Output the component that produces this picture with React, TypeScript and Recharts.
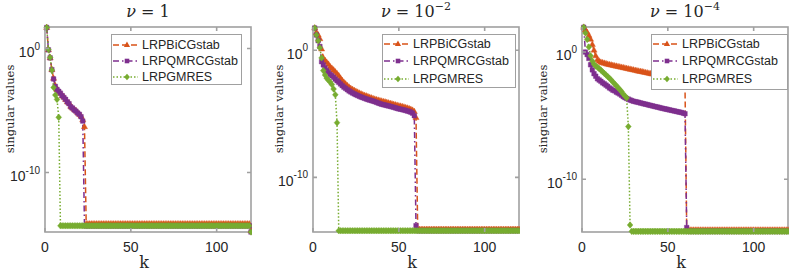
import { LineChart, Line, XAxis, YAxis, Legend } from 'recharts'

// log10 of the singular values, one entry per k = 1..120
const NU1_BICG = [
  1.7, -0.1, -0.75, -1.7, -2.4, -3.0, -3.3, -3.45, -3.6, -3.8,
  -3.9, -4.1, -4.3, -4.4, -4.65, -4.8, -4.9, -5.0, -5.15, -5.3,
  -5.45, -5.75, -6.3, -14.15, -14.15, -14.15, -14.15, -14.15, -14.15, -14.15,
  -14.15, -14.15, -14.15, -14.15, -14.15, -14.15, -14.15, -14.15, -14.15, -14.15,
  -14.15, -14.15, -14.15, -14.15, -14.15, -14.15, -14.15, -14.15, -14.15, -14.15,
  -14.15, -14.15, -14.15, -14.15, -14.15, -14.15, -14.15, -14.15, -14.15, -14.15,
  -14.15, -14.15, -14.15, -14.15, -14.15, -14.15, -14.15, -14.15, -14.15, -14.15,
  -14.15, -14.15, -14.15, -14.15, -14.15, -14.15, -14.15, -14.15, -14.15, -14.15,
  -14.15, -14.15, -14.15, -14.15, -14.15, -14.15, -14.15, -14.15, -14.15, -14.15,
  -14.15, -14.15, -14.15, -14.15, -14.15, -14.15, -14.15, -14.15, -14.15, -14.15,
  -14.15, -14.15, -14.15, -14.15, -14.15, -14.15, -14.15, -14.15, -14.15, -14.15,
  -14.15, -14.15, -14.15, -14.15, -14.15, -14.15, -14.15, -14.15, -14.15, -14.7,
]
const NU1_QMR = [
  1.7, -0.1, -0.75, -1.7, -2.45, -3.05, -3.3, -3.45, -3.6, -3.8,
  -3.95, -4.1, -4.3, -4.45, -4.7, -4.8, -4.95, -5.05, -5.2, -5.3,
  -5.5, -5.85, -14.3, -14.3, -14.3, -14.3, -14.3, -14.3, -14.3, -14.3,
  -14.3, -14.3, -14.3, -14.3, -14.3, -14.3, -14.3, -14.3, -14.3, -14.3,
  -14.3, -14.3, -14.3, -14.3, -14.3, -14.3, -14.3, -14.3, -14.3, -14.3,
  -14.3, -14.3, -14.3, -14.3, -14.3, -14.3, -14.3, -14.3, -14.3, -14.3,
  -14.3, -14.3, -14.3, -14.3, -14.3, -14.3, -14.3, -14.3, -14.3, -14.3,
  -14.3, -14.3, -14.3, -14.3, -14.3, -14.3, -14.3, -14.3, -14.3, -14.3,
  -14.3, -14.3, -14.3, -14.3, -14.3, -14.3, -14.3, -14.3, -14.3, -14.3,
  -14.3, -14.3, -14.3, -14.3, -14.3, -14.3, -14.3, -14.3, -14.3, -14.3,
  -14.3, -14.3, -14.3, -14.3, -14.3, -14.3, -14.3, -14.3, -14.3, -14.3,
  -14.3, -14.3, -14.3, -14.3, -14.3, -14.3, -14.3, -14.3, -14.3, -14.8,
]
const NU1_GMRES = [
  1.7, -0.08, -0.72, -1.74, -3.14, -3.75, -4.1, -5.55, -14.3, -14.3,
  -14.3, -14.3, -14.3, -14.3, -14.3, -14.3, -14.3, -14.3, -14.3, -14.3,
  -14.3, -14.3, -14.3, -14.3, -14.3, -14.3, -14.3, -14.3, -14.3, -14.3,
  -14.3, -14.3, -14.3, -14.3, -14.3, -14.3, -14.3, -14.3, -14.3, -14.3,
  -14.3, -14.3, -14.3, -14.3, -14.3, -14.3, -14.3, -14.3, -14.3, -14.3,
  -14.3, -14.3, -14.3, -14.3, -14.3, -14.3, -14.3, -14.3, -14.3, -14.3,
  -14.3, -14.3, -14.3, -14.3, -14.3, -14.3, -14.3, -14.3, -14.3, -14.3,
  -14.3, -14.3, -14.3, -14.3, -14.3, -14.3, -14.3, -14.3, -14.3, -14.3,
  -14.3, -14.3, -14.3, -14.3, -14.3, -14.3, -14.3, -14.3, -14.3, -14.3,
  -14.3, -14.3, -14.3, -14.3, -14.3, -14.3, -14.3, -14.3, -14.3, -14.3,
  -14.3, -14.3, -14.3, -14.3, -14.3, -14.3, -14.3, -14.3, -14.3, -14.3,
  -14.3, -14.3, -14.3, -14.3, -14.3, -14.3, -14.3, -14.3, -14.3, -14.8,
]

const NU2_BICG = [
  1.75, 1.4, 1.2, 0.9, 0.1, -0.6, -0.8, -0.95, -1.1, -1.3,
  -1.42, -1.55, -1.7, -1.85, -2.0, -2.2, -2.38, -2.52, -2.65, -2.78,
  -2.9, -3.0, -3.08, -3.16, -3.23, -3.3, -3.37, -3.44, -3.5, -3.55,
  -3.6, -3.65, -3.7, -3.75, -3.8, -3.85, -3.89, -3.93, -3.97, -4.0,
  -4.04, -4.07, -4.11, -4.15, -4.19, -4.22, -4.26, -4.3, -4.33, -4.37,
  -4.4, -4.43, -4.47, -4.51, -4.55, -4.6, -4.65, -4.72, -4.82, -5.3,
  -14.1, -14.1, -14.1, -14.1, -14.1, -14.1, -14.1, -14.1, -14.1, -14.1,
  -14.1, -14.1, -14.1, -14.1, -14.1, -14.1, -14.1, -14.1, -14.1, -14.1,
  -14.1, -14.1, -14.1, -14.1, -14.1, -14.1, -14.1, -14.1, -14.1, -14.1,
  -14.1, -14.1, -14.1, -14.1, -14.1, -14.1, -14.1, -14.1, -14.1, -14.1,
  -14.1, -14.1, -14.1, -14.1, -14.1, -14.1, -14.1, -14.1, -14.1, -14.1,
  -14.1, -14.1, -14.1, -14.1, -14.1, -14.1, -14.1, -14.1, -14.1, -14.1,
]
const NU2_QMR = [
  1.75, 1.2, 0.75, 0.3, -0.9, -1.15, -1.4, -1.6, -1.75, -1.9,
  -2.0, -2.13, -2.27, -2.4, -2.52, -2.65, -2.78, -2.9, -3.0, -3.1,
  -3.2, -3.28, -3.36, -3.43, -3.5, -3.56, -3.62, -3.68, -3.73, -3.78,
  -3.83, -3.88, -3.92, -3.96, -4.0, -4.05, -4.1, -4.15, -4.2, -4.25,
  -4.28, -4.31, -4.35, -4.38, -4.41, -4.45, -4.49, -4.53, -4.57, -4.61,
  -4.64, -4.67, -4.7, -4.74, -4.78, -4.82, -4.87, -4.95, -5.15, -13.8,
  -14.2, -14.2, -14.2, -14.2, -14.2, -14.2, -14.2, -14.2, -14.2, -14.2,
  -14.2, -14.2, -14.2, -14.2, -14.2, -14.2, -14.2, -14.2, -14.2, -14.2,
  -14.2, -14.2, -14.2, -14.2, -14.2, -14.2, -14.2, -14.2, -14.2, -14.2,
  -14.2, -14.2, -14.2, -14.2, -14.2, -14.2, -14.2, -14.2, -14.2, -14.2,
  -14.2, -14.2, -14.2, -14.2, -14.2, -14.2, -14.2, -14.2, -14.2, -14.2,
  -14.2, -14.2, -14.2, -14.2, -14.2, -14.2, -14.2, -14.2, -14.2, -14.2,
]
const NU2_GMRES = [
  1.75, 1.2, 0.75, 0.2, -0.6, -1.6, -1.95, -2.2, -2.35, -2.5,
  -2.7, -3.05, -3.5, -5.7, -14.2, -14.2, -14.2, -14.2, -14.2, -14.2,
  -14.2, -14.2, -14.2, -14.2, -14.2, -14.2, -14.2, -14.2, -14.2, -14.2,
  -14.2, -14.2, -14.2, -14.2, -14.2, -14.2, -14.2, -14.2, -14.2, -14.2,
  -14.2, -14.2, -14.2, -14.2, -14.2, -14.2, -14.2, -14.2, -14.2, -14.2,
  -14.2, -14.2, -14.2, -14.2, -14.2, -14.2, -14.2, -14.2, -14.2, -14.2,
  -14.2, -14.2, -14.2, -14.2, -14.2, -14.2, -14.2, -14.2, -14.2, -14.2,
  -14.2, -14.2, -14.2, -14.2, -14.2, -14.2, -14.2, -14.2, -14.2, -14.2,
  -14.2, -14.2, -14.2, -14.2, -14.2, -14.2, -14.2, -14.2, -14.2, -14.2,
  -14.2, -14.2, -14.2, -14.2, -14.2, -14.2, -14.2, -14.2, -14.2, -14.2,
  -14.2, -14.2, -14.2, -14.2, -14.2, -14.2, -14.2, -14.2, -14.2, -14.2,
  -14.2, -14.2, -14.2, -14.2, -14.2, -14.2, -14.2, -14.2, -14.2, -14.2,
]

const NU4_BICG = [
  1.95, 1.75, 1.55, 1.3, 1.0, 0.6, 0.15, -0.3, -0.6, -0.72,
  -0.8, -0.84, -0.88, -0.92, -0.96, -0.99, -1.02, -1.05, -1.08, -1.11,
  -1.14, -1.17, -1.2, -1.23, -1.26, -1.29, -1.32, -1.35, -1.38, -1.41,
  -1.44, -1.47, -1.5, -1.52, -1.55, -1.58, -1.61, -1.64, -1.67, -1.7,
  -1.73, -1.76, -1.8, -1.83, -1.86, -1.9, -1.93, -1.97, -2.0, -2.04,
  -2.07, -2.11, -2.14, -2.18, -2.22, -2.26, -2.3, -2.35, -2.42, -2.65,
  -14.0, -14.0, -14.0, -14.0, -14.0, -14.0, -14.0, -14.0, -14.0, -14.0,
  -14.0, -14.0, -14.0, -14.0, -14.0, -14.0, -14.0, -14.0, -14.0, -14.0,
  -14.0, -14.0, -14.0, -14.0, -14.0, -14.0, -14.0, -14.0, -14.0, -14.0,
  -14.0, -14.0, -14.0, -14.0, -14.0, -14.0, -14.0, -14.0, -14.0, -14.0,
  -14.0, -14.0, -14.0, -14.0, -14.0, -14.0, -14.0, -14.0, -14.0, -14.0,
  -14.0, -14.0, -14.0, -14.0, -14.0, -14.0, -14.0, -14.0, -14.0, -14.0,
]
const NU4_QMR = [
  1.95, 0.0, -0.2, -0.5, -1.0, -1.4, -1.7, -1.9, -2.1, -2.2,
  -2.3, -2.42, -2.5, -2.6, -2.7, -2.82, -2.9, -3.0, -3.05, -3.15,
  -3.22, -3.3, -3.4, -3.5, -3.58, -3.65, -3.7, -3.77, -3.82, -3.87,
  -3.9, -3.93, -3.96, -4.0, -4.03, -4.07, -4.1, -4.13, -4.17, -4.2,
  -4.23, -4.27, -4.3, -4.33, -4.36, -4.4, -4.43, -4.46, -4.49, -4.52,
  -4.55, -4.58, -4.61, -4.64, -4.67, -4.7, -4.73, -4.76, -4.8, -4.85,
  -13.8, -14.1, -14.1, -14.1, -14.1, -14.1, -14.1, -14.1, -14.1, -14.1,
  -14.1, -14.1, -14.1, -14.1, -14.1, -14.1, -14.1, -14.1, -14.1, -14.1,
  -14.1, -14.1, -14.1, -14.1, -14.1, -14.1, -14.1, -14.1, -14.1, -14.1,
  -14.1, -14.1, -14.1, -14.1, -14.1, -14.1, -14.1, -14.1, -14.1, -14.1,
  -14.1, -14.1, -14.1, -14.1, -14.1, -14.1, -14.1, -14.1, -14.1, -14.1,
  -14.1, -14.1, -14.1, -14.1, -14.1, -14.1, -14.1, -14.1, -14.1, -14.1,
]
const NU4_GMRES = [
  1.95, 1.5, 1.0, 0.4, -0.3, -0.7, -0.95, -1.1, -1.2, -1.3,
  -1.42, -1.55, -1.68, -1.8, -1.93, -2.06, -2.2, -2.35, -2.5, -2.65,
  -2.8, -2.95, -3.1, -3.3, -3.45, -3.6, -5.86, -13.6, -14.1, -14.1,
  -14.1, -14.1, -14.1, -14.1, -14.1, -14.1, -14.1, -14.1, -14.1, -14.1,
  -14.1, -14.1, -14.1, -14.1, -14.1, -14.1, -14.1, -14.1, -14.1, -14.1,
  -14.1, -14.1, -14.1, -14.1, -14.1, -14.1, -14.1, -14.1, -14.1, -14.1,
  -14.1, -14.1, -14.1, -14.1, -14.1, -14.1, -14.1, -14.1, -14.1, -14.1,
  -14.1, -14.1, -14.1, -14.1, -14.1, -14.1, -14.1, -14.1, -14.1, -14.1,
  -14.1, -14.1, -14.1, -14.1, -14.1, -14.1, -14.1, -14.1, -14.1, -14.1,
  -14.1, -14.1, -14.1, -14.1, -14.1, -14.1, -14.1, -14.1, -14.1, -14.1,
  -14.1, -14.1, -14.1, -14.1, -14.1, -14.1, -14.1, -14.1, -14.1, -14.1,
  -14.1, -14.1, -14.1, -14.1, -14.1, -14.1, -14.1, -14.1, -14.1, -14.1,
]

const NU_EXPONENTS = [null, '\u22122', '\u22124']
// y-axis limits as log10 values, per panel
const Y_LIMITS = [[-14.8, 1.74], [-14.3, 1.83], [-14.15, 1.97]]
const X_DOMAIN = [0, 120]
const X_TICKS = [0, 50, 100]
const Y_TICKS = [1e-10, 1]

const SERIES = [
  { key: 'bicg', name: 'LRPBiCGstab', color: '#D95319', dash: '6 3', marker: 'triangle' },
  { key: 'qmr', name: 'LRPQMRCGstab', color: '#7E2F8E', dash: '6 3 1.5 3', marker: 'square' },
  { key: 'gmres', name: 'LRPGMRES', color: '#77AC30', dash: '1.5 2', marker: 'diamond' },
]

const AXIS = '#a0a0a0'
const INK = '#262626'
const SANS = '"Liberation Sans", Arial, sans-serif'
const SERIF = '"DejaVu Serif", serif'
// plot box inside each chart
const PLOT_LEFT = 45
const PLOT_TOP = 27
const PLOT_W = 206
const PLOT_H = 205

const panels = [
  { left: 0, bicg: NU1_BICG, qmr: NU1_QMR, gmres: NU1_GMRES, labelX: 9.5, legend: { x: 111, y: 34, w: 131, h: 51, row: 16, pad: 2 } },
  { left: 268, bicg: NU2_BICG, qmr: NU2_QMR, gmres: NU2_GMRES, labelX: 11, legend: { x: 114, y: 34, w: 134, h: 54, row: 17.5, pad: 0 } },
  { left: 537, bicg: NU4_BICG, qmr: NU4_QMR, gmres: NU4_GMRES, labelX: 6, legend: { x: 114, y: 34, w: 137, h: 56, row: 17.5, pad: 0 } },
]

function markerPath(shape: string, cx: number, cy: number) {
  if (shape === 'triangle') return `M${cx},${cy - 3.4}L${cx + 3.1},${cy + 2}L${cx - 3.1},${cy + 2}Z`
  if (shape === 'square') return `M${cx - 2.3},${cy - 2.3}h4.6v4.6h-4.6Z`
  return `M${cx},${cy - 3.3}L${cx + 2.9},${cy}L${cx},${cy + 3.3}L${cx - 2.9},${cy}Z`
}

const makeDot = (shape: string, color: string) => (props: any) => {
  const { cx, cy, index } = props
  if (cx == null || cy == null) return <g key={`e${index}`} />
  return <path key={`m${index}`} d={markerPath(shape, cx, cy)} fill={color} stroke={color} strokeWidth={0.4} />
}

function BottomTick({ x, y, payload }: any) {
  return (
    <g>
      <path d={`M${x},${y}v-4M${x},${y - PLOT_H}v4`} stroke={AXIS} strokeWidth={1.6} fill="none" />
      <text x={x} y={y + 20} textAnchor="middle" fontFamily={SANS} fontSize={14} fill={INK}>{payload.value}</text>
    </g>
  )
}

function LeftTick({ x, y, payload }: any) {
  const exp = Math.round(Math.log10(payload.value))
  return (
    <g>
      <path d={`M${x},${y}h4M${x + PLOT_W},${y}h-4`} stroke={AXIS} strokeWidth={1.6} fill="none" />
      <text x={x - 5} y={y + 8.4} textAnchor="end" fontFamily={SANS} fontSize={14} fill={INK}>
        10<tspan dy={-7.4} fontSize={10}>{exp}</tspan>
      </text>
    </g>
  )
}

function LegendBox({ box }: any) {
  return (
    <div style={{
      width: box.w, height: box.h, boxSizing: 'border-box', border: `1px solid ${AXIS}`, background: '#fff',
      paddingTop: box.pad, fontFamily: SANS, fontSize: 12.5, color: INK,
    }}>
      {SERIES.map(s => (
        <div key={s.key} style={{ display: 'flex', alignItems: 'center', height: box.row }}>
          <svg width={30} height={12} style={{ flex: 'none' }}>
            <line x1={1} x2={26} y1={6} y2={6} stroke={s.color} strokeWidth={1.5} strokeDasharray={s.dash} />
            <path d={markerPath(s.marker, 15, 6)} fill={s.color} />
          </svg>
          <span style={{ whiteSpace: 'nowrap', lineHeight: 1 }}>{s.name}</span>
        </div>
      ))}
    </div>
  )
}

function Panel({ index }: { index: number }) {
  const p = panels[index]
  const data = p.bicg.map((e, i) => ({ k: i + 1, bicg: 10 ** e, qmr: 10 ** p.qmr[i], gmres: 10 ** p.gmres[i] }))
  const [lo, hi] = Y_LIMITS[index]
  const yDomain = [10 ** lo, 10 ** hi]
  const nuExp = NU_EXPONENTS[index]

  const xLabel = () => (
    <text x={144} y={268} textAnchor="middle" fontFamily={SERIF} fontSize={16} fill={INK}>k</text>
  )
  // frame, y label and panel title
  const yLabel = () => (
    <g>
      <rect x={PLOT_LEFT} y={PLOT_TOP} width={PLOT_W} height={PLOT_H} fill="none" stroke={AXIS} strokeWidth={1.6} />
      <text x={p.labelX} y={109} transform={`rotate(-90, ${p.labelX}, 109)`} textAnchor="middle"
        dominantBaseline="central" fontFamily={SERIF} fontSize={11.5} fill={INK}>singular values</text>
      <text x={148} y={17} textAnchor="middle" fontFamily={SERIF} fontSize={16} fill={INK}>
        <tspan fontStyle="italic">ν</tspan>
        <tspan> = {nuExp ? '10' : '1'}</tspan>
        {nuExp && <tspan dy={-7} fontSize={11}>{nuExp}</tspan>}
      </text>
    </g>
  )

  return (
    <div style={{ position: 'absolute', left: p.left, top: 0 }}>
      <LineChart width={252} height={271} data={data} margin={{ top: PLOT_TOP, right: 1, bottom: 0, left: 0 }}>
        <XAxis dataKey="k" type="number" domain={X_DOMAIN} ticks={X_TICKS} interval={0} height={39}
          axisLine={false} tickLine={false} tickSize={0} tickMargin={0} tick={BottomTick} label={xLabel} />
        <YAxis type="number" scale="log" domain={yDomain} ticks={Y_TICKS} interval={0} width={PLOT_LEFT}
          axisLine={false} tickLine={false} tickSize={0} tickMargin={0} tick={LeftTick} label={yLabel} />
        {SERIES.map(s => (
          <Line key={s.key} dataKey={s.key} name={s.name} type="linear" stroke={s.color} strokeWidth={1.5}
            strokeDasharray={s.dash} dot={makeDot(s.marker, s.color)} activeDot={false} isAnimationActive={false} />
        ))}
        <Legend layout="vertical" align="center" verticalAlign="middle" content={() => <LegendBox box={p.legend} />}
          wrapperStyle={{ left: p.legend.x, top: p.legend.y, width: p.legend.w, height: p.legend.h }} />
      </LineChart>
    </div>
  )
}

export default function App() {
  return (
    <div style={{ position: 'absolute', left: 0, top: 0, width: 789, height: 271, background: '#fff', overflow: 'hidden' }}>
      {panels.map((_, i) => <Panel key={i} index={i} />)}
    </div>
  )
}
